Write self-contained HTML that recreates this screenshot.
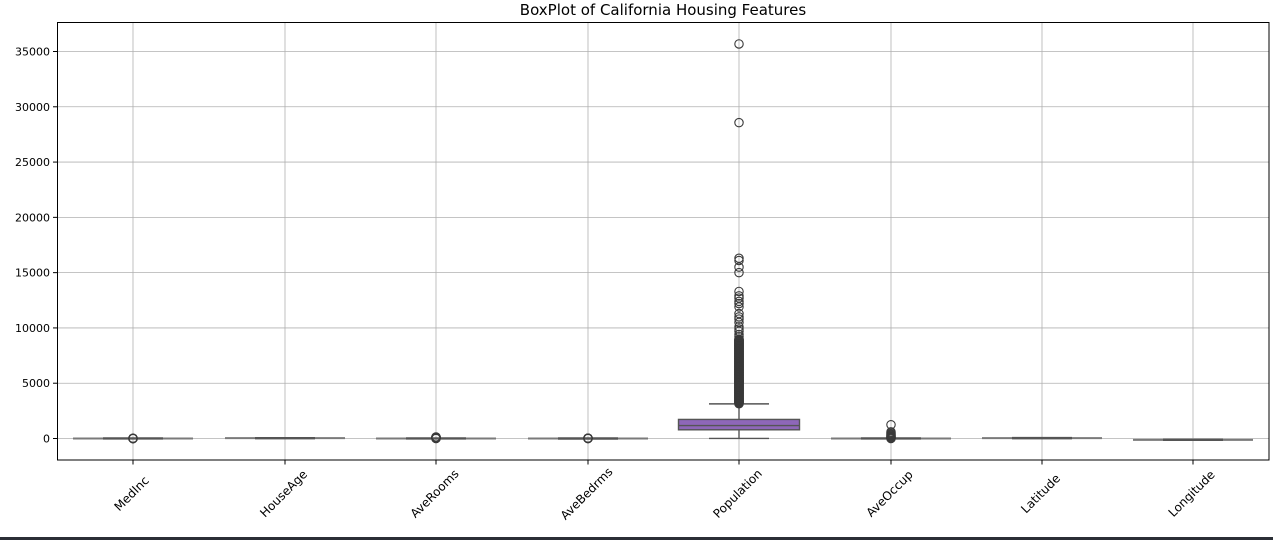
<!DOCTYPE html>
<html><head><meta charset="utf-8"><style>
html,body{margin:0;padding:0;background:#fff;}
svg{display:block;font-family:"DejaVu Sans","Liberation Sans",sans-serif;}
</style></head><body>
<svg id="s" width="1273" height="540" xmlns="http://www.w3.org/2000/svg">
<rect width="1273" height="540" fill="#fff"/>
<text x="663" y="15" font-size="15" text-anchor="middle" fill="#000">BoxPlot of California Housing Features</text>
<g id="grid" stroke="#b0b0b0" stroke-width="0.8"></g>
<g id="plot"></g>
<rect x="57.5" y="22.5" width="1211.5" height="437.5" fill="none" stroke="#000" stroke-width="1"/>
<g id="ticks" font-size="11" fill="#000"></g>
<rect x="0" y="537" width="1273" height="3" fill="#2b2f36"/>
</svg>
<script>
const NS="http://www.w3.org/2000/svg";
function el(p,t,a,txt){const e=document.createElementNS(NS,t);for(const k in a)e.setAttribute(k,a[k]);if(txt!==undefined)e.textContent=txt;document.getElementById(p).appendChild(e);return e;}
const Y=v=>438.5-v*(387/35000);
const xs=[133,285,436,588,739,891,1042,1193];
const names=["MedInc","HouseAge","AveRooms","AveBedrms","Population","AveOccup","Latitude","Longitude"];
for(let v=0;v<=35000;v+=5000){const y=Y(v);el("grid","line",{x1:57.5,x2:1269,y1:y,y2:y});
 el("ticks","line",{x1:53,x2:57.5,y1:y,y2:y,stroke:"#000"});
 el("ticks","text",{x:50,y:y+4,"text-anchor":"end"},String(v));}
xs.forEach((x,i)=>{el("grid","line",{x1:x,x2:x,y1:22.5,y2:460});
 el("ticks","line",{x1:x,x2:x,y1:460,y2:464.5,stroke:"#000"});
 el("ticks","text",{x:x-1,y:494,"font-size":12,"text-anchor":"middle","dominant-baseline":"middle",transform:`rotate(-45 ${x-1} 494)`},names[i]);});
const gc="#555";
const flat={0:4,1:29,2:5,3:1,5:3,6:35,7:-119};
for(const k in flat){const x=xs[k];const y=Y(flat[k]);
 el("plot","line",{x1:x-60,x2:x+60,y1:y,y2:y,stroke:"#7a7a7a","stroke-width":2});
 el("plot","line",{x1:x-30,x2:x+30,y1:y,y2:y,stroke:"#555","stroke-width":2.4});}
function circ(x,v){el("plot","circle",{cx:x,cy:Y(v),r:4.2,fill:"none",stroke:"#3a3a3a","stroke-width":1.1});}
for(let v=0;v<=40;v+=4){circ(xs[0],v/3);}
for(let v=0;v<=140;v+=10){circ(xs[2],v);}
for(let v=0;v<=34;v+=4){circ(xs[3],v);}
[0,30,60,100,150,200,250,330,400,500,600,1243].forEach(v=>circ(xs[5],v));
const px=xs[4];
el("plot","line",{x1:px,x2:px,y1:Y(3),y2:Y(787),stroke:gc,"stroke-width":1.4});
el("plot","line",{x1:px,x2:px,y1:Y(1725),y2:Y(3132),stroke:gc,"stroke-width":1.4});
el("plot","line",{x1:px-30,x2:px+30,y1:Y(3),y2:Y(3),stroke:gc,"stroke-width":1.4});
el("plot","line",{x1:px-30,x2:px+30,y1:Y(3132),y2:Y(3132),stroke:gc,"stroke-width":1.4});
el("plot","rect",{x:px-60.5,y:Y(1725),width:121,height:Y(787)-Y(1725),fill:"#8e67b8",stroke:gc,"stroke-width":1.4});
el("plot","line",{x1:px-60.5,x2:px+60.5,y1:Y(1166),y2:Y(1166),stroke:gc,"stroke-width":1.4});
for(let v=3140;v<=9000;v+=25)circ(px,v);
[9200,9400,9700,9900,10100,10500,10800,11000,11300,11900,12200,12400,12700,12900,13300,15000,15500,16100,16300,28566,35682].forEach(v=>circ(px,v));
</script>
</body></html>
